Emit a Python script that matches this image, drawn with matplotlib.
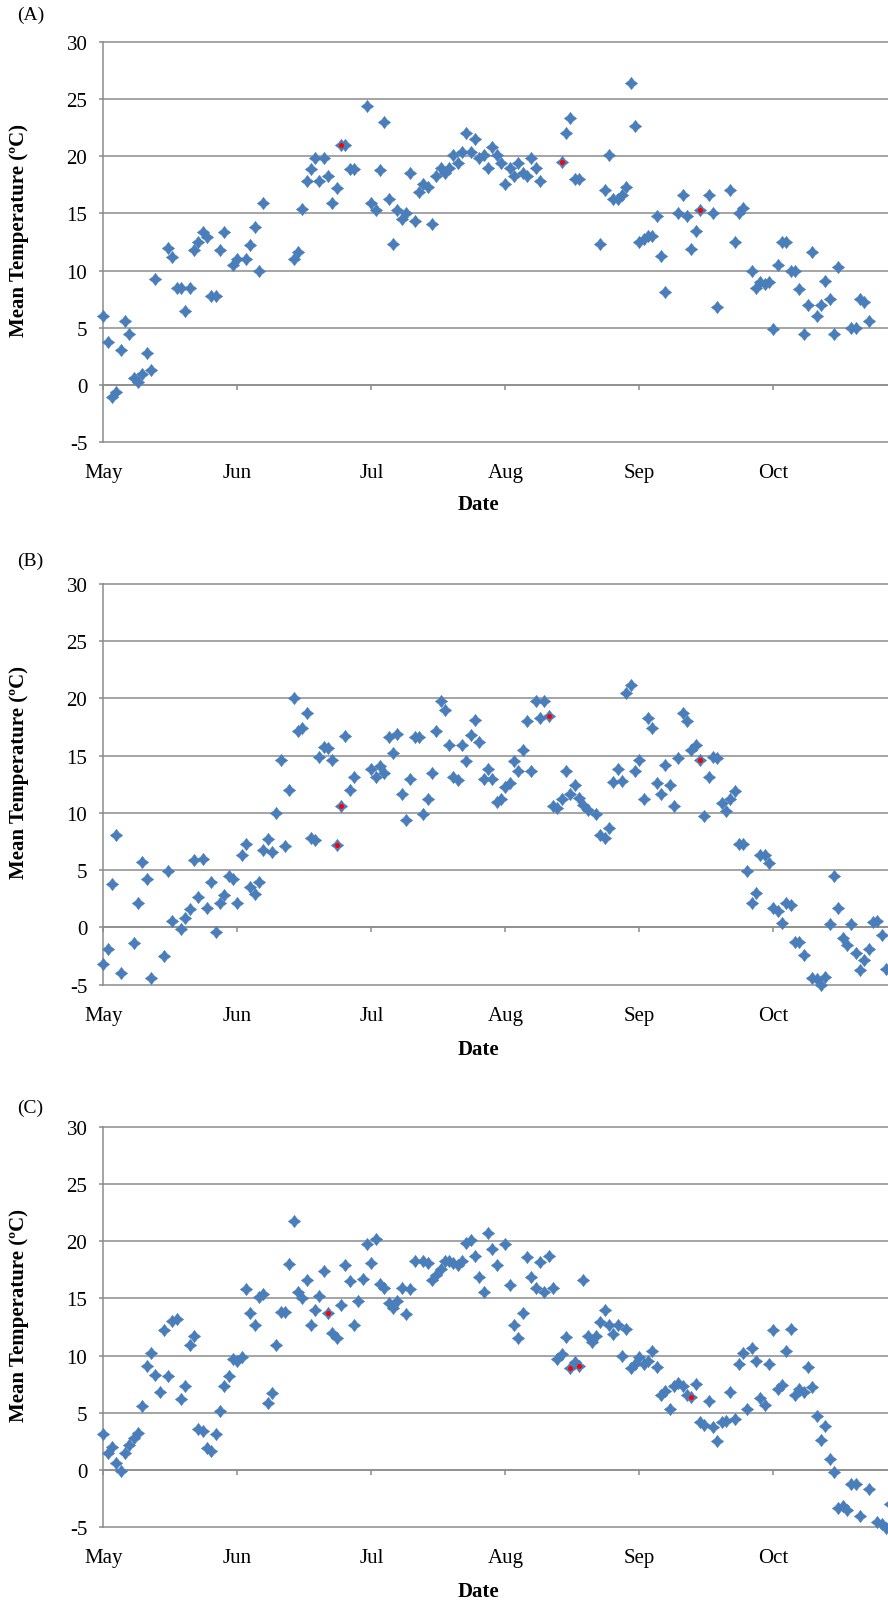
import matplotlib
matplotlib.use("Agg")
import matplotlib.pyplot as plt
from matplotlib.path import Path

plt.rcParams['font.family'] = ['Liberation Serif', 'DejaVu Serif']
plt.rcParams['axes.unicode_minus'] = False

# ---- axis definitions -------------------------------------------------
month_labels = ["May", "Jun", "Jul", "Aug", "Sep", "Oct"]
month_step = 31          # days between month ticks (day 0 = 1 May)
x_max = 181.5            # last visible day of the season
y_ticks = [-5, 0, 5, 10, 15, 20, 25, 30]

# ---- (A) daily mean temperature -----------------------------------------
days_a = [0, 1, 2, 3, 4, 5, 6, 7, 8, 9, 10, 11, 12,
          15, 16, 17, 18, 19, 20, 21, 22, 23, 24, 25, 26, 27, 28,
          30, 31, 33, 34, 35, 36, 37,
          44, 45, 46, 47, 48, 49, 50, 51, 52, 53, 54, 55, 56, 57, 58,
          61, 62, 63, 64, 65, 66, 67, 68, 69, 70, 71, 72, 73, 74, 75, 76, 77, 78, 79, 80,
          81, 82, 83, 84, 85, 86, 87, 88, 89, 90, 91, 92, 93, 94, 95, 96, 97, 98, 99, 100, 101,
          106, 107, 108, 109, 110,
          115, 116, 117, 118, 119, 120, 121, 122, 123, 124, 125, 126, 127, 128, 129, 130,
          133, 134, 135, 136, 137, 138, 140, 141, 142, 145, 146, 147, 148,
          150, 151, 152, 153, 154, 155, 156, 157, 158, 159, 160, 161, 162, 163, 164, 165,
          166, 167, 168, 169, 170, 173, 174, 175, 176, 177]
temp_a = [6.0, 3.8, -1.0, -0.6, 3.1, 5.6, 4.5, 0.6, 0.3, 1.0, 2.8, 1.3, 9.3,
          12.0, 11.2, 8.5, 8.5, 6.5, 8.5, 11.8, 12.5, 13.4, 12.9, 7.8, 7.8, 11.8, 13.4,
          10.5, 11.0, 11.0, 12.2, 13.8, 10.0, 15.9,
          11.0, 11.6, 15.4, 17.8, 18.9, 19.8, 17.8, 19.8, 18.3, 15.9, 17.2, 21.0, 21.0, 18.9, 18.9,
          24.4, 15.9, 15.3, 18.8, 23.0, 16.3, 12.3, 15.3, 14.5, 15.0, 18.5, 14.3, 16.9, 17.6, 17.3,
          14.1, 18.3, 19.0, 18.5, 19.0,
          20.1, 19.4, 20.4, 22.0, 20.4, 21.5, 19.8, 20.1, 19.0, 20.8, 20.1, 19.4, 17.6, 19.0, 18.3,
          19.4, 18.5, 18.3, 19.8, 19.0, 17.8,
          19.5, 22.0, 23.3, 18.0, 18.0,
          12.3, 17.0, 20.1, 16.3, 16.3, 16.6, 17.3, 26.4, 22.6, 12.5, 12.8, 13.0, 13.0, 14.8, 11.3, 8.1,
          15.0, 16.6, 14.8, 11.9, 13.5, 15.3, 16.6, 15.0, 6.8, 17.0, 12.5, 15.0, 15.5,
          10.0, 8.5, 9.0, 8.8, 9.0, 4.9, 10.5, 12.5, 12.5, 10.0, 10.0, 8.4, 4.5, 7.0, 11.6, 6.0,
          7.0, 9.1, 7.5, 4.5, 10.3, 5.0, 5.0, 7.5, 7.3, 5.6]
marked_a = [55, 106, 138]

# ---- (B) daily mean temperature -----------------------------------------
days_b = [0, 1, 2, 3, 4, 7, 8, 9, 10, 11, 14, 15, 16,
          18, 19, 20, 21, 22, 23, 24, 25, 26, 27, 28, 29, 30, 31, 32, 33, 34, 35, 36, 37, 38,
          39, 40, 41, 42, 43, 44, 45, 46, 47, 48, 49, 50, 51, 52, 53, 54, 55, 56, 57, 58,
          62, 63, 64, 65, 66, 67, 68, 69, 70, 71, 72, 73, 74, 75, 76, 77, 78, 79, 80, 81, 82,
          83, 84, 85, 86, 87, 88, 89, 90, 91, 92, 93, 94, 95, 96, 97, 98, 99, 100, 101, 102,
          103, 104, 105, 106, 107, 108, 109, 110, 111, 112,
          114, 115, 116, 117, 118, 119, 120, 121, 122, 123, 124, 125, 126, 127, 128, 129, 130,
          131, 132, 133, 134, 135, 136, 137, 138, 139, 140, 141, 142, 143, 144, 145, 146, 147,
          148, 149, 150, 151, 152, 153, 154, 155, 156, 157, 158, 159, 160, 161, 162,
          164, 165, 166, 167, 168, 169, 170, 171, 172, 173, 174, 175, 176, 177, 178, 179, 180, 181]
temp_b = [-3.2, -1.9, 3.8, 8.1, -4.0, -1.4, 2.1, 5.7, 4.2, -4.4, -2.5, 4.9, 0.6,
          -0.1, 0.8, 1.6, 5.9, 2.7, 6.0, 1.7, 4.0, -0.4, 2.1, 2.8, 4.5, 4.2, 2.1, 6.3, 7.3, 3.5,
          2.9, 4.0, 6.8, 7.7,
          6.6, 10.0, 14.6, 7.1, 12.0, 20.0, 17.2, 17.4, 18.7, 7.8, 7.6, 14.9, 15.8, 15.7, 14.6,
          7.2, 10.6, 16.7, 12.0, 13.1,
          13.8, 13.1, 14.1, 13.5, 16.6, 15.2, 16.9, 11.7, 9.4, 13.0, 16.6, 16.6, 9.9, 11.2, 13.5,
          17.2, 19.8, 19.0, 15.9, 13.1, 12.9,
          15.9, 14.5, 16.8, 18.1, 16.2, 13.0, 13.8, 13.0, 11.0, 11.2, 12.3, 12.6, 14.5, 13.7,
          15.5, 18.0, 13.7, 19.8, 18.3, 19.8,
          18.5, 10.6, 10.4, 11.2, 13.7, 11.7, 12.4, 11.3, 10.7, 10.3,
          9.9, 8.1, 7.8, 8.7, 12.7, 13.8, 12.8, 20.5, 21.2, 13.7, 14.6, 11.2, 18.3, 17.4, 12.6,
          11.7, 14.2,
          12.4, 10.6, 14.8, 18.7, 18.0, 15.5, 15.9, 14.6, 9.7, 13.1, 14.9, 14.8, 10.9, 10.2,
          11.2, 11.9, 7.3,
          7.3, 4.9, 2.1, 3.0, 6.3, 6.3, 5.6, 1.7, 1.4, 0.4, 2.1, 2.0, -1.3, -1.3, -2.4,
          -4.4, -4.5, -5.0, -4.3, 0.3, 4.5, 1.7, -0.9, -1.5, 0.3, -2.2, -3.7, -2.8, -1.9, 0.5,
          0.6, -0.7, -3.6]
marked_b = [54, 55, 103, 138]

# ---- (C) daily mean temperature -----------------------------------------
days_c = [0, 1, 2, 3, 4, 5, 6, 7, 8, 9, 10, 11, 12, 13, 14, 15, 16, 17, 18, 19, 20,
          21, 22, 23, 24, 25, 26, 27, 28, 29, 30, 31, 32, 33, 34, 35, 36, 37, 38, 39, 40,
          41, 42, 43, 44, 45, 46, 47, 48, 49, 50, 51, 52, 53, 54, 55, 56, 57, 58, 59, 60,
          61, 62, 63, 64, 65, 66, 67, 68, 69, 70, 71, 72,
          74, 75, 76, 77, 78, 79, 80, 81, 82, 83, 84, 85, 86, 87, 88, 89, 90, 91,
          93, 94, 95, 96, 97, 98, 99, 100, 101, 102, 103, 104, 105, 106, 107, 108, 109, 110,
          111, 112, 113, 114, 115, 116, 117, 118, 119, 120, 121, 122, 123, 124, 125, 126, 127,
          128, 129, 130, 131, 132, 133, 134, 135, 136, 137, 138, 139, 140, 141, 142, 143, 144,
          145, 146, 147, 148, 149, 150, 151, 152, 153, 154, 155, 156, 157, 158, 159, 160, 161,
          162, 163, 164, 165, 166, 167, 168, 169, 170, 171, 172, 173, 174, 175,
          177, 179, 180, 181, 182]
temp_c = [3.1, 1.5, 2.0, 0.6, -0.1, 1.5, 2.2, 2.8, 3.2, 5.6, 9.1, 10.2, 8.3, 6.8, 12.2, 8.2,
          13.0, 13.2, 6.2, 7.3, 10.9,
          11.7, 3.6, 3.4, 1.9, 1.6, 3.1, 5.1, 7.3, 8.2, 9.7, 9.5, 9.9, 15.8, 13.7, 12.7, 15.1,
          15.4, 5.8, 6.7, 10.9,
          13.8, 13.8, 18.0, 21.8, 15.6, 15.0, 16.6, 12.7, 14.0, 15.2, 17.4, 13.7, 12.0, 11.5,
          14.4, 17.9, 16.5, 12.7, 14.8, 16.7,
          19.8, 18.1, 20.2, 16.3, 15.9, 14.6, 14.2, 14.8, 15.9, 13.6, 15.8, 18.3,
          18.3, 18.1, 16.6, 17.1, 17.6, 18.3, 18.3, 18.1, 17.9, 18.3, 19.9, 20.1, 18.7, 16.9,
          15.6, 20.7, 19.3, 17.9,
          19.8, 16.2, 12.7, 11.5, 13.7, 18.6, 16.9, 15.9, 18.2, 15.6, 18.7, 15.9, 9.7, 10.1,
          11.6, 8.9, 9.4, 9.1,
          16.6, 11.7, 11.2, 11.7, 12.9, 14.0, 12.7, 11.9, 12.7, 10.0, 12.3, 8.9, 9.3, 9.9, 9.3,
          9.5, 10.4,
          9.0, 6.5, 6.9, 5.3, 7.3, 7.6, 7.3, 6.5, 6.4, 7.5, 4.2, 3.9, 6.0, 3.7, 2.5, 4.2, 4.3,
          6.8, 4.4, 9.3, 10.2, 5.3, 10.7, 9.5, 6.3, 5.7, 9.3, 12.2, 7.1, 7.4, 10.4, 12.3, 6.5,
          7.1,
          6.8, 9.0, 7.2, 4.7, 2.6, 3.8, 0.9, -0.2, -3.4, -3.2, -3.5, -1.3, -1.3, -4.1,
          -1.7, -4.6, -4.8, -5.1, -3.0]
marked_c = [52, 108, 110, 136]

# ---- styling ------------------------------------------------------------
BLUE = "#4A7EBB"
RED = "#FF0000"
GRID = "#8C8C8C"
TEXT_SIZE = 15

# four-pointed diamond marker with slightly pinched sides
pinch = 0.43
marker_path = Path(
    [(0, 1), (pinch, pinch), (1, 0), (pinch, -pinch), (0, -1),
     (-pinch, -pinch), (-1, 0), (-pinch, pinch), (0, 1)],
    [Path.MOVETO] + [Path.LINETO] * 7 + [Path.CLOSEPOLY])

W, H = 888, 1606
fig = plt.figure(figsize=(W / 100, H / 100), dpi=100)

# (panel tag, days, temps, marked days, top px, bottom px, tag y px, xlabel y)
panels = [
    ("(A)", days_a, temp_a, marked_a, 42.7, 443.3, 15.5, -0.154),
    ("(B)", days_b, temp_b, marked_b, 585.0, 985.7, 561.3, -0.160),
    ("(C)", days_c, temp_c, marked_c, 1128.3, 1527.7, 1108.2, -0.162),
]
left_px = 103.3

for tag, d, t, marked, top, bot, tag_y, xlab_y in panels:
    assert len(d) == len(t)
    ax = fig.add_axes([left_px / W, 1 - bot / H, 1 - left_px / W, (bot - top) / H])
    ax.set_xlim(0, x_max)
    ax.set_ylim(y_ticks[0], y_ticks[-1])

    # horizontal gridlines
    ax.set_yticks(y_ticks)
    ax.yaxis.grid(True, color=GRID, linewidth=1.1)
    ax.xaxis.grid(False)
    ax.set_axisbelow(True)
    for gl in ax.get_ygridlines():
        gl.set_clip_on(False)

    # spines: left axis line, category axis crossing at 0
    for side in ("top", "right"):
        ax.spines[side].set_visible(False)
    ax.spines["left"].set_color(GRID)
    ax.spines["left"].set_linewidth(1.1)
    ax.spines["bottom"].set_position(("data", 0))
    ax.spines["bottom"].set_color(GRID)
    ax.spines["bottom"].set_linewidth(1.1)

    ax.set_xticks([i * month_step for i in range(len(month_labels))])
    ax.set_xticklabels(month_labels)
    ax.tick_params(axis="x", direction="out", length=3.3, width=1.1, color=GRID,
                   pad=53, labelsize=TEXT_SIZE)
    ax.tick_params(axis="y", direction="out", length=3.0, width=1.1, color=GRID,
                   pad=8.5, labelsize=TEXT_SIZE)

    # data
    ax.plot(d, t, linestyle="none", marker=marker_path, markersize=9.0,
            color=BLUE, markeredgecolor=BLUE, markeredgewidth=0.3,
            clip_on=False, zorder=3)
    mt = [t[d.index(x)] for x in marked]
    ax.plot(marked, mt, linestyle="none", marker="o", markersize=3.6,
            color=RED, markeredgewidth=0, clip_on=False, zorder=4)

    # axis titles
    ax.set_ylabel("Mean Temperature (ºC)", fontsize=TEXT_SIZE, fontweight="bold")
    ax.yaxis.label.set_va("center")
    ax.yaxis.set_label_coords(-0.1072, 0.532)
    ax.set_xlabel("Date", fontsize=TEXT_SIZE, fontweight="bold")
    ax.xaxis.label.set_va("center")
    ax.xaxis.set_label_coords(0.478, xlab_y)

    fig.text(17.5 / W, 1 - tag_y / H, tag, fontsize=14, va="center", ha="left")

fig.savefig("out.png", dpi=100)
